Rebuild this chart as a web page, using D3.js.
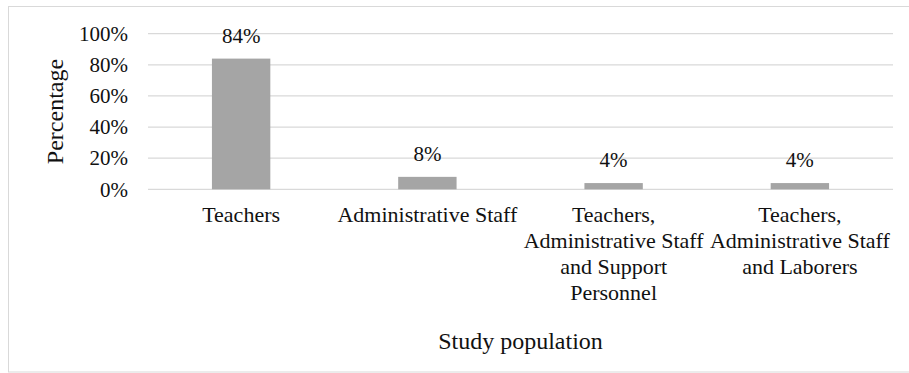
<!DOCTYPE html>
<html>
<head>
<meta charset="utf-8">
<script src="https://cdn.jsdelivr.net/npm/d3@7"></script>
<style>
  html, body { margin: 0; padding: 0; background: #fff; }
  svg { display: block; }
  text { font-family: "Liberation Serif", "Times New Roman", serif; fill: #111; }
</style>
</head>
<body>
<svg id="chart" width="909" height="373"></svg>
<script>
// Study population shares
const categories = [
  "Teachers",
  "Administrative Staff",
  "Teachers,\nAdministrative Staff\nand Support\nPersonnel",
  "Teachers,\nAdministrative Staff\nand Laborers"
];
const values = [84, 8, 4, 4];
const yTicks = [0, 20, 40, 60, 80, 100];
const xTitle = "Study population";
const yTitle = "Percentage";

const svg = d3.select("#chart");
const W = 909, H = 373;
const margin = { left: 148, right: 16, top: 33.7, bottom: 183.7 };
const plotW = W - margin.left - margin.right;
const plotH = H - margin.top - margin.bottom;

// chart frame
svg.append("rect")
  .attr("x", 8.5).attr("y", 6.5)
  .attr("width", W + 10).attr("height", 365.5)
  .attr("fill", "#fff").attr("stroke", "#d9d9d9").attr("stroke-width", 1);

const g = svg.append("g").attr("transform", `translate(${margin.left},${margin.top})`);

const x = d3.scaleBand().domain(categories).range([0, plotW]).paddingInner(0.6865).paddingOuter(0.3433);
const y = d3.scaleLinear().domain([0, 100]).range([plotH, 0]);

// horizontal gridlines
g.append("g")
  .selectAll("line")
  .data(yTicks)
  .join("line")
  .attr("x1", 0).attr("x2", plotW)
  .attr("y1", d => y(d)).attr("y2", d => y(d))
  .attr("stroke", "#d9d9d9").attr("stroke-width", 1.3);

// y-axis tick labels
const yAxis = d3.axisLeft(y).tickValues(yTicks).tickFormat(d => d + "%").tickSize(0).tickPadding(20);
g.append("g").call(yAxis)
  .call(a => a.select(".domain").remove())
  .selectAll("text")
  .style("font-size", "21px")
  .attr("fill", "#111");

// bars
g.append("g")
  .selectAll("rect")
  .data(values)
  .join("rect")
  .attr("x", (d, i) => x(categories[i]))
  .attr("y", d => y(d))
  .attr("width", x.bandwidth())
  .attr("height", d => plotH - y(d))
  .attr("fill", "#a5a5a5");

// value labels
g.append("g")
  .selectAll("text")
  .data(values)
  .join("text")
  .attr("x", (d, i) => x(categories[i]) + x.bandwidth() / 2)
  .attr("y", d => y(d) - 16)
  .attr("text-anchor", "middle")
  .style("font-size", "21px")
  .text(d => d + "%");

// category labels (multi-line)
const step = plotW / categories.length;
const catG = g.append("g");
categories.forEach((c, i) => {
  const t = catG.append("text")
    .attr("text-anchor", "middle")
    .style("font-size", "22px");
  c.split("\n").forEach((line, j) => {
    t.append("tspan")
      .attr("x", x(c) + x.bandwidth() / 2)
      .attr("y", plotH + 33 + j * 26)
      .text(line);
  });
});

// axis titles
svg.append("text")
  .attr("x", margin.left + plotW / 2)
  .attr("y", 349)
  .attr("text-anchor", "middle")
  .style("font-size", "24px")
  .text(xTitle);

svg.append("text")
  .attr("transform", `translate(63,${margin.top + plotH / 2}) rotate(-90)`)
  .attr("text-anchor", "middle")
  .style("font-size", "24px")
  .text(yTitle);
</script>
</body>
</html>
